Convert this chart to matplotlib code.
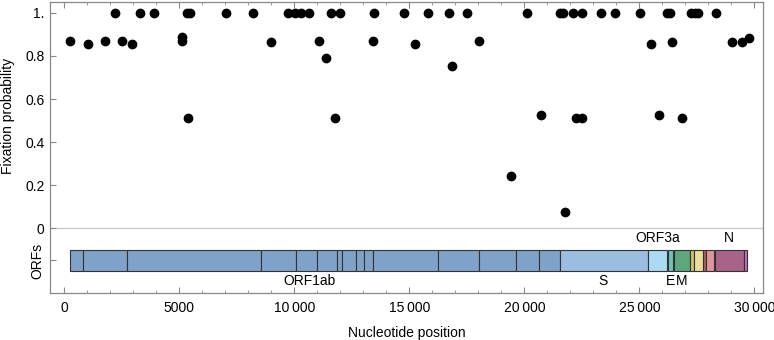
import matplotlib
matplotlib.use("Agg")
import matplotlib.pyplot as plt
import matplotlib.transforms as mtransforms
from matplotlib.ticker import MultipleLocator, FixedLocator

plt.rcParams['font.family'] = ['Liberation Sans', 'DejaVu Sans']
plt.rcParams['font.size'] = 10

# fixation probability of each site
site_pos = [250, 1030, 1770, 2210, 2510, 2930, 3300, 3900, 5130, 5130, 5320, 5480,
            5390, 7040, 8200, 8990, 9720, 10030, 10300, 10660, 11090, 11390, 11575,
            11770, 12005, 13480, 13420, 14755, 15250, 15810, 16725, 16840, 17520,
            18015, 19420, 20100, 20710, 21550, 21700, 21770, 22120, 22250, 22495,
            22510, 23350, 23945, 25015, 25490, 25870, 26220, 26335, 26410, 26840,
            27260, 27400, 27560, 28320, 29045, 29480, 29783]
fix_prob = [0.871, 0.857, 0.871, 1.0, 0.871, 0.857, 1.0, 1.0, 0.887, 0.871, 1.0, 1.0,
            0.51, 1.0, 1.0, 0.865, 1.0, 1.0, 1.0, 1.0, 0.871, 0.792, 1.0,
            0.51, 1.0, 1.0, 0.871, 1.0, 0.857, 1.0, 1.0, 0.753, 1.0,
            0.871, 0.243, 1.0, 0.524, 1.0, 1.0, 0.076, 1.0, 0.51, 1.0,
            0.51, 1.0, 1.0, 1.0, 0.857, 0.524, 1.0, 1.0, 0.865, 0.51,
            1.0, 1.0, 1.0, 1.0, 0.865, 0.865, 0.885]

# ORF segments (start, end, colour)
seg_start = [266, 806, 2720, 8555, 10055, 10973, 11843, 12092, 12686, 13025, 13442,
             16237, 18040, 19621, 20659, 21563, 25393, 26245, 26523, 27202, 27394,
             27756, 27894, 28274, 29558]
seg_end = [805, 2719, 8554, 10054, 10972, 11842, 12091, 12685, 13024, 13441, 16236,
           18039, 19620, 20658, 21555, 25384, 26220, 26472, 27191, 27387, 27759,
           27887, 28259, 29533, 29674]
ORF1 = '#7fa3c8'
seg_color = [ORF1] * 15 + ['#9bbde0', '#acdaf2', '#72c2b4', '#5ea67c', '#cbc16d',
                           '#ecdc9c', '#a8635a', '#e0949e', '#a86488', '#c070c0']

# gene labels: name, x, above/below
gene_names = ['ORF1ab', 'S', 'ORF3a', 'E', 'M', 'N']
gene_label_x = [10650, 23430, 25806, 26358, 26857, 28903]
gene_label_up = [False, False, True, False, False, True]

xtick_vals = [0, 5000, 10000, 15000, 20000, 25000, 30000]

fig = plt.figure(figsize=(7.74, 3.4), dpi=100)
ax = fig.add_axes([0.0646, 0.139, 0.9216, 0.856])

ax.axhline(0, color='#c8c8c8', lw=0.9, zorder=1)
ax.plot(site_pos, fix_prob, 'o', color='black', ms=6, zorder=3)

widths = [e - s + 1 for s, e in zip(seg_start, seg_end)]
ax.barh(-0.15, widths, left=seg_start, height=0.1, color=seg_color,
        edgecolor='#333333', linewidth=0.8, zorder=2)

for name, gx, up in zip(gene_names, gene_label_x, gene_label_up):
    ax.text(gx, -0.048 if up else -0.245, name, ha='center', va='center', fontsize=10)

ax.set_xlim(-620, 30390)
ax.set_ylim(-0.3, 1.052)

ax.set_xticks(xtick_vals)
ax.set_xticklabels([f"{v:,}".replace(",", "\u2009") if v >= 10000 else str(v)
                    for v in xtick_vals])
ax.xaxis.set_minor_locator(MultipleLocator(1000))

ax.yaxis.set_major_locator(FixedLocator([-0.15, 0, 0.2, 0.4, 0.6, 0.8, 1.0]))
ax.set_yticklabels(['ORFs', '0', '0.2', '0.4', '0.6', '0.8', '1.'])
orf_lab = ax.get_yticklabels()[0]
orf_lab.set_rotation(90)
orf_lab.set_va('center')

ax.tick_params(axis='x', which='both', direction='in', top=True, colors='#888888',
               labelcolor='black', labelsize=10, pad=6)
ax.tick_params(axis='x', which='major', length=4)
ax.tick_params(axis='x', which='minor', length=2)
ax.tick_params(axis='y', direction='in', length=4, colors='#888888',
               labelcolor='black', labelsize=10, pad=4)

for sp in ax.spines.values():
    sp.set_color('#888888')
    sp.set_linewidth(0.9)

ax.set_xlabel('Nucleotide position', fontsize=10, labelpad=8)
# y label centred on the 0..1 probability range
trans = mtransforms.blended_transform_factory(fig.transFigure, ax.transData)
ax.text(0.0097, 0.52, 'Fixation probability', rotation=90, ha='center', va='center',
        fontsize=10, transform=trans)

fig.savefig('out.png', dpi=100)
